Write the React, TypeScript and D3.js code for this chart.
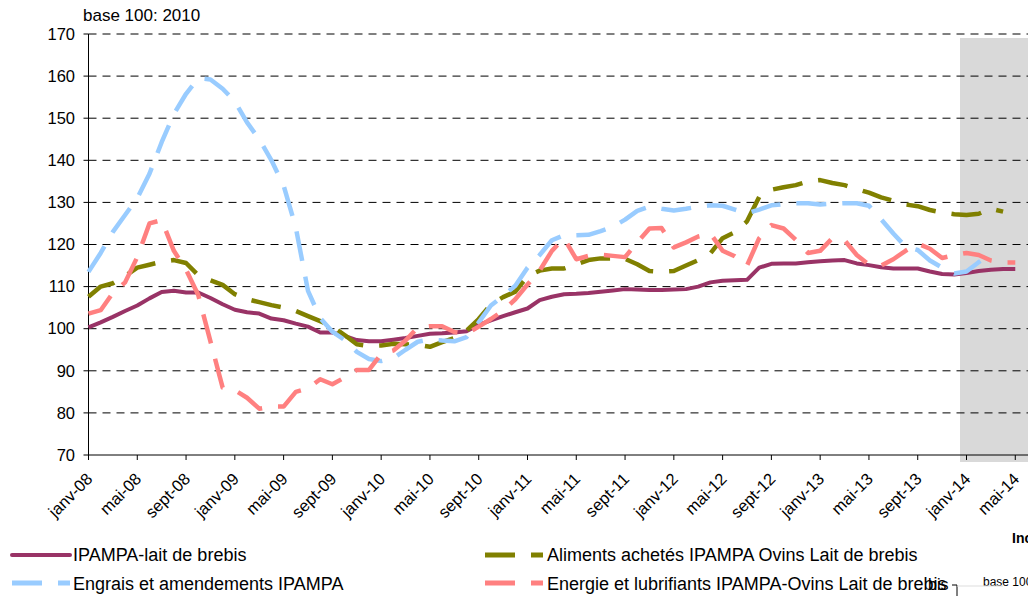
import React from "react";
import * as d3 from "d3";

// Monthly values, starting janv-08
const ipampaLait = [100.3,101.5,102.8,104.2,105.5,107.2,108.7,109,108.6,108.6,107.3,105.8,104.5,103.9,103.6,102.4,102,101.2,100.5,99.1,99.1,98.3,97.3,97,97,97.4,97.8,98.3,98.8,98.9,99.1,99.4,100.9,102,103,103.9,104.8,106.8,107.6,108.2,108.3,108.5,108.8,109.1,109.4,109.3,109.2,109.2,109.3,109.4,110,111,111.4,111.5,111.6,114.5,115.4,115.5,115.5,115.8,116,116.2,116.3,115.5,115.1,114.6,114.3,114.3,114.3,113.6,113,112.9,113.2,113.7,114,114.2,114.2];
const alimentsAchetes = [107.6,110,110.8,112.5,114.5,115.2,115.9,116.3,115.6,112.7,111.5,110.4,108.2,107,106.3,105.6,105,104.2,103,101.8,100.5,98.5,96.3,95.9,96,96.4,96.3,96.2,95.7,96.8,97.8,99.5,102.3,105.8,107.5,108.8,112.5,113.8,114.3,114.3,115.3,116.3,116.7,116.7,116.6,115.3,113.7,113.5,113.7,115,116.3,117.9,121.5,122.9,125.5,131.3,133,133.6,134.1,135,135.3,134.6,134.1,133.2,132.3,131.2,130.4,129.5,129.1,128.2,127.6,127.2,127,127.3,128.5,127.8];
const engrais = [113.5,118,123,127,131,136.8,144.3,151,155.8,159.5,159.2,157,154,149,145,140,134,124,109,102.5,99.3,97.3,94.5,92.8,92.3,93,95,96.9,97.5,97.2,97,98,101.5,105.5,107.8,110.2,114.5,117.5,121,122.2,122.2,122.3,123.2,124.2,125.9,128,129,128.5,128.1,128.5,129,129.3,129.2,128.3,127.4,128.3,129.3,129.6,129.8,129.8,129.5,129.7,129.8,129.8,129.2,126,122.6,119.5,118.7,116.2,114.5,113.1,113.6,115.8,117.8];
const energie = [103.6,104.4,108.5,111,117,125,125.8,118.5,114,108,97,86,85.4,83.6,81,81.5,81.5,85,85.8,88,86.8,88.4,90.2,90.2,94,94.8,97.2,100.3,100.6,100.6,99.2,98.8,100.5,102.3,104.3,107,110.5,113.8,118.5,121.5,116.5,117.3,117.6,117.3,117,120.5,123.8,123.9,119.3,120.5,121.9,122.6,118.5,117.2,115,121.5,124.6,123.8,121.1,118,118.5,121.5,121,117.5,115.2,115,116.5,118.5,120.2,119,116.8,117.5,118,117.5,116.2,115.7,115.7];

const tickLabels = ["janv-08","mai-08","sept-08","janv-09","mai-09","sept-09","janv-10","mai-10","sept-10","janv-11","mai-11","sept-11","janv-12","mai-12","sept-12","janv-13","mai-13","sept-13","janv-14","mai-14"];
const yTicks = [70,80,90,100,110,120,130,140,150,160,170];

const series = [
  { name: "IPAMPA-lait de brebis", values: ipampaLait, color: "#993366", dash: null, width: 4 },
  { name: "Aliments achetés IPAMPA Ovins Lait de brebis", values: alimentsAchetes, color: "#808000", dash: "30,16", width: 4.5 },
  { name: "Engrais et amendements IPAMPA", values: engrais, color: "#99CCFF", dash: "30,16", width: 4.5 },
  { name: "Energie et lubrifiants IPAMPA-Ovins Lait de brebis", values: energie, color: "#FF8080", dash: "30,16", width: 4.5 },
];

const W = 1028, H = 596;
const FONT = "'Liberation Sans', Arial, sans-serif";

export default function App() {
  const x = d3.scaleLinear().domain([0, 72]).range([88.5, 966.5]);
  const y = d3.scaleLinear().domain([70, 170]).range([455, 34]);
  const line = d3.line<number>().x((_, i) => x(i)).y((d) => y(d));

  const legendItems = [
    { s: series[0], lx: 12, ly: 555, tx: 73, ty: 561 },
    { s: series[1], lx: 485, ly: 555, tx: 547, ty: 561 },
    { s: series[2], lx: 12, ly: 583, tx: 73, ty: 590 },
    { s: series[3], lx: 485, ly: 583, tx: 547, ty: 590 },
  ];

  return (
    <svg width={W} height={H} style={{ position: "absolute", left: 0, top: 0, background: "#fff" }} fontFamily={FONT}>
      <rect x={960} y={38} width={W - 960} height={424} fill="#D9D9D9" />
      {yTicks.filter((t) => t > 70).map((t) => (
        <line key={t} x1={x(0)} x2={W} y1={y(t)} y2={y(t)} stroke="#000" strokeWidth={1} strokeDasharray="8,6" />
      ))}
      {/* axes */}
      <line x1={x(0)} x2={x(0)} y1={y(170)} y2={y(70)} stroke="#000" strokeWidth={1} />
      <line x1={x(0)} x2={W} y1={y(70)} y2={y(70)} stroke="#000" strokeWidth={1} />
      {yTicks.map((t) => (
        <g key={t}>
          <line x1={x(0) - 5} x2={x(0)} y1={y(t)} y2={y(t)} stroke="#000" strokeWidth={1} />
          <text x={75} y={y(t)} dy="0.35em" textAnchor="end" fontSize={16.5} fill="#000">{t}</text>
        </g>
      ))}
      {tickLabels.map((lab, i) => (
        <g key={lab}>
          <line x1={x(i * 4)} x2={x(i * 4)} y1={y(70)} y2={y(70) + 5} stroke="#000" strokeWidth={1} />
          <text transform={`translate(${x(i * 4) + 1},${476}) rotate(-45)`} dy="0.35em" textAnchor="end" fontSize={16.5} fill="#000">{lab}</text>
        </g>
      ))}
      <text x={83} y={21} fontSize={17} fill="#000">base 100: 2010</text>
      {series.map((s) => (
        <path key={s.name} d={line(s.values) || ""} fill="none" stroke={s.color} strokeWidth={s.width}
          strokeDasharray={s.dash || undefined} strokeLinejoin="round" />
      ))}
      {legendItems.map(({ s, lx, ly, tx, ty }) => (
        <g key={s.name}>
          <line x1={lx} x2={lx + 58} y1={ly} y2={ly} stroke={s.color} strokeWidth={s.dash ? 5 : 4}
            strokeDasharray={s.dash || undefined} strokeLinecap={s.dash ? "butt" : "round"} />
          <text x={tx} y={ty} fontSize={18} fill="#000">{s.name}</text>
        </g>
      ))}
      {/* fragments of a neighbouring chart */}
      <text x={1012} y={543} fontSize={14} fontWeight="bold" fill="#000">Inc</text>
      <text x={983} y={586} fontSize={12} fill="#000">base 100</text>
      <text x={928} y={590} fontSize={16} fill="#000">bis</text>
      <line x1={952} x2={957} y1={585} y2={585} stroke="#000" strokeWidth={1} />
      <line x1={957} x2={957} y1={585} y2={596} stroke="#000" strokeWidth={1} />
      <line x1={957} x2={1003} y1={586} y2={586} stroke="#ddd" strokeWidth={1} />
    </svg>
  );
}
